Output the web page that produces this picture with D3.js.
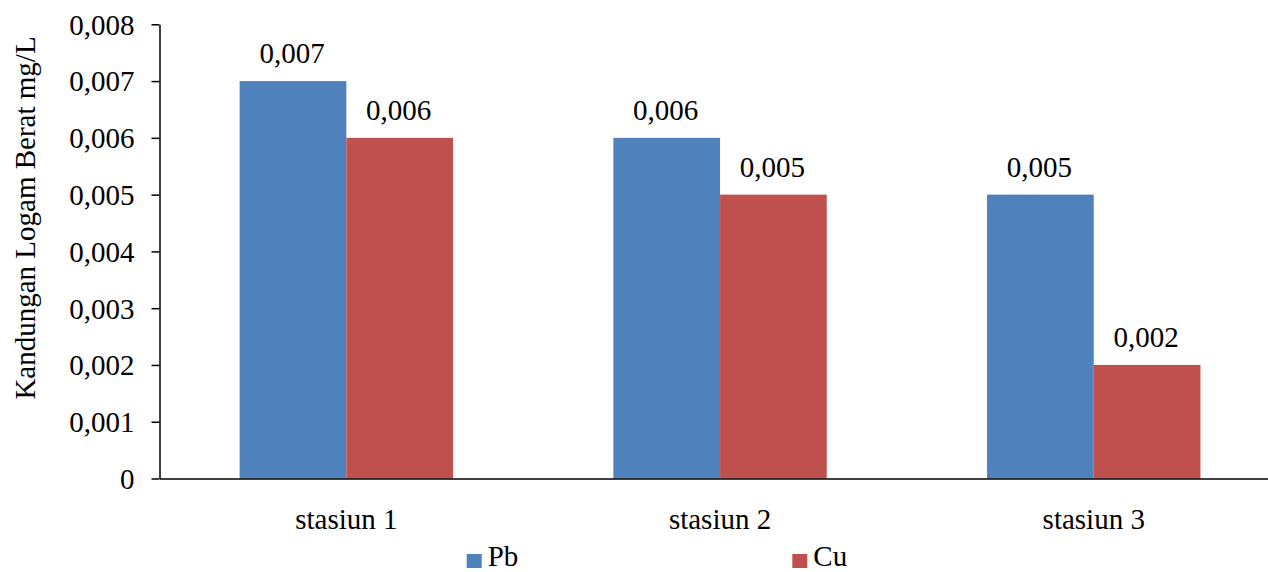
<!DOCTYPE html>
<html><head><meta charset="utf-8">
<script src="https://cdn.jsdelivr.net/npm/d3@7"></script>
<style>body{margin:0;background:#fff}svg{display:block}</style>
</head><body><svg id="c" width="1268" height="572"></svg>
<script>
const categories = ["stasiun 1", "stasiun 2", "stasiun 3"];
const seriesNames = ["Pb", "Cu"];
const pbValues = [0.007, 0.006, 0.005];
const cuValues = [0.006, 0.005, 0.002];
const yTicks = [0, 0.001, 0.002, 0.003, 0.004, 0.005, 0.006, 0.007, 0.008];
const valueLabels = [["0,007","0,006","0,005"],["0,006","0,005","0,002"]];
const colors = ["#4F81BD", "#C0504D"];

const FONT = "'Liberation Serif', 'Times New Roman', serif";
const FS = 29;
const svg = d3.select("#c").attr("font-family", FONT);
const L = 159.5, R = 1280.6, T = 24.3, B = 478.5;
const x = d3.scaleBand().domain(categories).range([L, R]).paddingInner(0).paddingOuter(0);
const step = x.bandwidth();
const groupPad = (step - 213.4) / 2;
const xs = d3.scaleBand().domain(seriesNames).range([groupPad, step - groupPad]).padding(0);
const y = d3.scaleLinear().domain([0, 0.008]).range([B, T]);
const fmt = d => d === 0 ? "0" : d3.format(".3f")(d).replace(".", ",");

const series = [pbValues, cuValues];
const g = svg.append("g");
series.forEach((vals, si) => {
  g.selectAll(null).data(vals).enter().append("rect")
    .attr("x", (d, i) => x(categories[i]) + xs(seriesNames[si]))
    .attr("y", d => y(d))
    .attr("width", xs.bandwidth())
    .attr("height", d => y(0) - y(d))
    .attr("fill", colors[si]);
  g.selectAll(null).data(vals).enter().append("text")
    .attr("x", (d, i) => x(categories[i]) + xs(seriesNames[si]) + xs.bandwidth() / 2 - 1)
    .attr("y", d => y(d) - 18)
    .attr("text-anchor", "middle")
    .attr("font-size", FS).attr("font-family", FONT).attr("fill", "#000")
    .text((d, i) => valueLabels[si][i]);
});

// y axis
const yAxis = d3.axisLeft(y).tickValues(yTicks).tickFormat(fmt).tickSize(8).tickSizeOuter(0);
const ya = svg.append("g").attr("transform", `translate(${L},0)`).call(yAxis).attr("font-family", FONT);
ya.select(".domain").attr("stroke", "#000").attr("stroke-width", 1.5);
ya.selectAll(".tick line").attr("stroke", "#000").attr("stroke-width", 1.5);
ya.selectAll(".tick text").attr("font-size", FS).attr("x", -25).attr("dy", "0.34em").attr("fill", "#000");

// x axis
const xAxis = d3.axisBottom(x).tickSize(0).tickSizeOuter(0);
const xa = svg.append("g").attr("transform", `translate(0,${B})`).call(xAxis).attr("font-family", FONT);
xa.select(".domain").attr("stroke", "#000").attr("stroke-width", 1.5);
xa.selectAll(".tick text").attr("font-size", FS).attr("y", 50).attr("dy", 0).attr("fill", "#000");

// y title
svg.append("text").attr("transform", `translate(35,218) rotate(-90)`)
  .attr("text-anchor", "middle").attr("font-size", FS).attr("fill", "#000")
  .text("Kandungan Logam Berat mg/L");

// legend
const legendX = [466.7, 792.3];
seriesNames.forEach((n, i) => {
  svg.append("rect").attr("x", legendX[i]).attr("y", 554).attr("width", 15).attr("height", 14).attr("fill", colors[i]);
  svg.append("text").attr("x", legendX[i] + 21).attr("y", 566).attr("font-size", FS).attr("fill", "#000").text(n);
});
</script></body></html>
